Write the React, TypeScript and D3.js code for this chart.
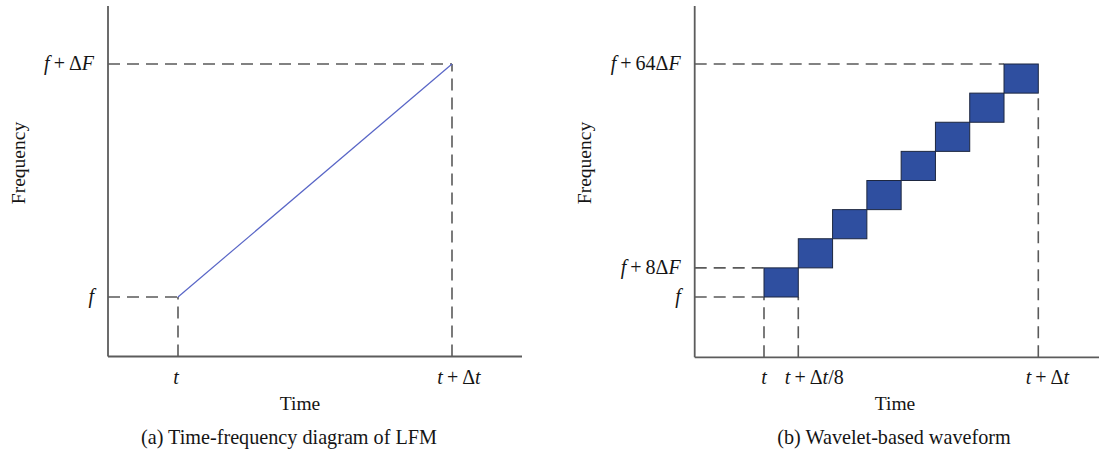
import React from 'react';
import * as d3 from 'd3';

// ---- Data ----
// (a) LFM: normalised time (0..1 of Δt) vs normalised frequency (0..1 of ΔF)
const lfmTime = [0, 1];
const lfmFreq = [0, 1];
const leftTimeTicks = [0, 1];
const leftTimeLabels = ['t', 't+Δt'];
const leftTimeDashTo = [0, 1]; // frequency value where vertical dash ends
const leftFreqTicks = [0, 1];
const leftFreqLabels = ['f', 'f+ΔF'];
const leftFreqDashTo = [0, 1]; // time value where horizontal dash ends

// (b) Wavelet: 8 sub-pulses, time slot (Δt/8 units) and frequency (ΔF units)
const waveletSlot = [0, 1, 2, 3, 4, 5, 6, 7];
const waveletFreq = [0, 8, 16, 24, 32, 40, 48, 56];
const waveletSlotWidth = 1;
const waveletFreqHeight = 8;
const rightTimeTicks = [0, 1, 8];
const rightTimeLabels = ['t', 't+Δt/8', 't+Δt'];
const rightTimeDashTo = [0, 0, 56];
const rightFreqTicks = [0, 8, 64];
const rightFreqLabels = ['f', 'f+8ΔF', 'f+64ΔF'];
const rightFreqDashTo = [0, 0, 7];

const FONT = '"Liberation Serif", "DejaVu Serif", serif';
const AXIS = '#5c5c5c';
const DASH = '#5a5a5a';
const INK = '#151515';

function MathLabel({ text, ...rest }: any) {
  const parts: { s: string; it: boolean }[] = [];
  for (const ch0 of text) {
    const ch = ch0 === '+' ? '\u2009+\u2009' : ch0;
    const it = /[a-zA-Z]/.test(ch0);
    const last = parts[parts.length - 1];
    if (last && last.it === it) last.s += ch;
    else parts.push({ s: ch, it });
  }
  return (
    <text {...rest}>
      {parts.map((p, i) => (
        <tspan key={i} fontStyle={p.it ? 'italic' : 'normal'}>{p.s}</tspan>
      ))}
    </text>
  );
}

function Panel(props: any) {
  const {
    x, y, axisL, axisR, axisT, axisB,
    timeTicks, timeLabels, timeDashTo, timeLabelDx,
    freqTicks, freqLabels, freqDashTo,
    freqTitleX, timeTitleX, caption, captionX, children,
  } = props;
  return (
    <g>
      {/* dashed guides */}
      {freqTicks.map((f: number, i: number) => (
        <line key={'fh' + i} x1={axisL} x2={x(freqDashTo[i])} y1={y(f)} y2={y(f)}
          stroke={DASH} strokeWidth={1.6} strokeDasharray="12,7" />
      ))}
      {timeTicks.map((t: number, i: number) => (
        <line key={'tv' + i} x1={x(t)} x2={x(t)} y1={axisB} y2={y(timeDashTo[i])}
          stroke={DASH} strokeWidth={1.6} strokeDasharray="12,7" />
      ))}
      {children}
      {/* axes */}
      <line x1={axisL} x2={axisL} y1={axisT} y2={axisB} stroke={AXIS} strokeWidth={1.8} />
      <line x1={axisL} x2={axisR} y1={axisB} y2={axisB} stroke={AXIS} strokeWidth={1.8} />
      {/* tick labels */}
      {timeTicks.map((t: number, i: number) => (
        <MathLabel key={'tl' + i} text={timeLabels[i]} x={x(t) + timeLabelDx[i]} y={384}
          textAnchor="middle" fontFamily={FONT} fontSize={20} fill={INK} />
      ))}
      {freqTicks.map((f: number, i: number) => (
        <MathLabel key={'fl' + i} text={freqLabels[i]} x={axisL - 14} y={y(f) + 6}
          textAnchor="end" fontFamily={FONT} fontSize={20} fill={INK} />
      ))}
      <text x={timeTitleX} y={410} textAnchor="middle" fontFamily={FONT} fontSize={19.5} fill={INK}>Time</text>
      <text transform={`translate(${freqTitleX},163) rotate(-90)`} textAnchor="middle"
        fontFamily={FONT} fontSize={19.5} fill={INK}>Frequency</text>
      <text x={captionX} y={444} textAnchor="middle" fontFamily={FONT} fontSize={20.2} fill={INK}>{caption}</text>
    </g>
  );
}

export default function App() {
  const xL = d3.scaleLinear().domain([0, 1]).range([178, 452]);
  const yL = d3.scaleLinear().domain([0, 1]).range([297, 64]);
  const xR = d3.scaleLinear().domain([0, 8]).range([764, 1038.3]);
  const yR = d3.scaleLinear().domain([0, 64]).range([297, 64]);

  const lfmLine = d3.line<number>()
    .x((_, i) => xL(lfmTime[i]))
    .y((d) => yL(d))(lfmFreq) || '';

  return (
    <svg width={1099} height={454} style={{ position: 'absolute', left: 0, top: 0, background: '#fff' }}>
      <rect width={1099} height={454} fill="#fff" />
      <Panel x={xL} y={yL} axisL={108} axisR={522} axisT={6} axisB={356.5}
        timeTicks={leftTimeTicks} timeLabels={leftTimeLabels} timeDashTo={leftTimeDashTo}
        timeLabelDx={[-2, 7]}
        freqTicks={leftFreqTicks} freqLabels={leftFreqLabels} freqDashTo={leftFreqDashTo}
        freqTitleX={25} timeTitleX={300} caption="(a) Time-frequency diagram of LFM" captionX={289}>
        <path d={lfmLine} fill="none" stroke="#5865c6" strokeWidth={1.2} />
      </Panel>
      <Panel x={xR} y={yR} axisL={694.7} axisR={1099} axisT={6} axisB={357.3}
        timeTicks={rightTimeTicks} timeLabels={rightTimeLabels} timeDashTo={rightTimeDashTo}
        timeLabelDx={[0, 16, 9]}
        freqTicks={rightFreqTicks} freqLabels={rightFreqLabels} freqDashTo={rightFreqDashTo}
        freqTitleX={591} timeTitleX={895} caption="(b) Wavelet-based waveform" captionX={894}>
        {waveletSlot.map((s, i) => (
          <rect key={i} x={xR(s)} y={yR(waveletFreq[i] + waveletFreqHeight)}
            width={xR(s + waveletSlotWidth) - xR(s)}
            height={yR(waveletFreq[i]) - yR(waveletFreq[i] + waveletFreqHeight)}
            fill="#2f4fa0" stroke="#1d2740" strokeWidth={1} />
        ))}
      </Panel>
    </svg>
  );
}
